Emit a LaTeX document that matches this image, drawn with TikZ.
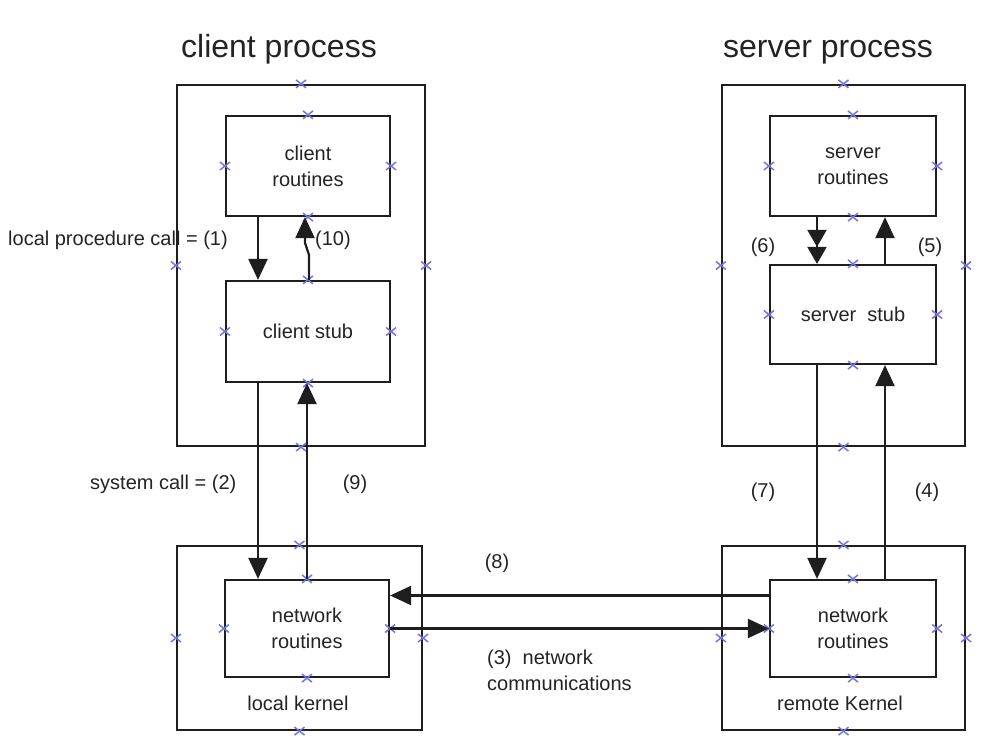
\documentclass[tikz,border=0pt]{standalone}
\usepackage{fontspec}
\setmainfont{Liberation Sans}
\usetikzlibrary{arrows.meta}
\definecolor{linec}{RGB}{30,30,30}
\definecolor{textc}{RGB}{35,35,35}
\definecolor{markc}{RGB}{115,115,225}
\begin{document}
\begin{tikzpicture}[x=1pt,y=-1pt,
  box/.style={draw=linec,line width=2.2pt,inner sep=0pt,align=center,
    font=\fontsize{20}{26}\selectfont,text=textc},
  lbl/.style={inner sep=0pt,font=\fontsize{20}{26}\selectfont,text=textc},
  ttl/.style={inner sep=0pt,anchor=base,font=\fontsize{32}{38}\selectfont,text=textc},
  arr/.style={draw=linec,line width=2.2pt,-{Triangle[length=21pt,width=19pt]}},
  darr/.style={draw=linec,line width=2.2pt,-{Triangle[length=17pt,width=19pt]Triangle[length=17pt,width=19pt]}},
  cpmark/.pic={\draw[markc,line width=1.5pt] (-5,-4)--(5,4) (-5,4)--(5,-4);}
]
\useasboundingbox (0,0) rectangle (986,742);

% titles
\node[ttl] (tc) at (279,57) {client process};
\node[ttl] (ts) at (828,57) {server process};

% client side
\node[box,minimum width=248pt,minimum height=361pt] (co) at (301,265.5) {};
\node[box,minimum width=164pt,minimum height=100pt] (cr) at (308,166) {client\\routines};
\node[box,minimum width=164pt,minimum height=101pt] (cs) at (308,331.5) {client stub};

% local kernel
\node[box,minimum width=245pt,minimum height=184pt] (lo) at (299.5,638) {};
\node[box,minimum width=164pt,minimum height=97pt] (ln) at (307,628.5) {network\\routines};
\node[lbl] (lk) at (298,703) {local kernel};

% server side
\node[box,minimum width=243pt,minimum height=361pt] (so) at (843.5,265.5) {};
\node[box,minimum width=166pt,minimum height=100pt] (sr) at (853,166) {server\\routines};
\node[box,minimum width=166pt,minimum height=99pt] (ss) at (853,314.5) {server\ \ stub};

% remote kernel
\node[box,minimum width=243pt,minimum height=184pt] (ro) at (843.5,638) {};
\node[box,minimum width=166pt,minimum height=97pt] (rn) at (853,628.5) {network\\routines};
\node[lbl] (rk) at (840,703) {remote Kernel};

% connection markers
\foreach \n in {co,cr,cs,lo,ln,so,sr,ss,ro,rn}
  \foreach \a in {north,south,east,west}
    \pic at (\n.\a) {cpmark};

% client arrows
\draw[arr] ([xshift=-50pt]cr.south) -- ([xshift=-50pt]cs.north);
\draw[arr] ([xshift=1pt]cs.north) -- ++(0,-25) -- ++(-4,-12) -- ([xshift=-3pt]cr.south);
\draw[arr] ([xshift=-50pt]cs.south) -- ([xshift=-50pt]cs.south |- ln.north);
\draw[arr] (ln.north) -- (ln.north |- cs.south);

% server arrows
\draw[darr] ([xshift=-36pt]sr.south) -- ([xshift=-36pt]ss.north);
\draw[arr] ([xshift=32pt]ss.north) -- ([xshift=32pt]sr.south);
\draw[arr] ([xshift=-36pt]ss.south) -- ([xshift=-36pt]ss.south |- rn.north);
\draw[arr] ([xshift=32pt]rn.north) -- ([xshift=32pt]rn.north |- ss.south);

% network arrows
\draw[arr] ([yshift=33pt]rn.west) -- ([yshift=33pt]ln.east);
\draw[arr] (ln.east) -- (rn.west);

% labels
\node[lbl,anchor=west] (l1) at (8,240) {local procedure call = (1)};
\node[lbl,anchor=west] (l10) at (315,240) {(10)};
\node[lbl,anchor=west] (l2) at (90,484) {system call = (2)};
\node[lbl] (l9) at (355,484) {(9)};
\node[lbl] (l6) at (763,247) {(6)};
\node[lbl] (l5) at (930,247) {(5)};
\node[lbl] (l7) at (763,492) {(7)};
\node[lbl] (l4) at (927,492) {(4)};
\node[lbl] (l8) at (497,563) {(8)};
\node[lbl,anchor=west,align=left] (l3) at (487,670) {(3)\ \ network\\communications};
\end{tikzpicture}
\end{document}
